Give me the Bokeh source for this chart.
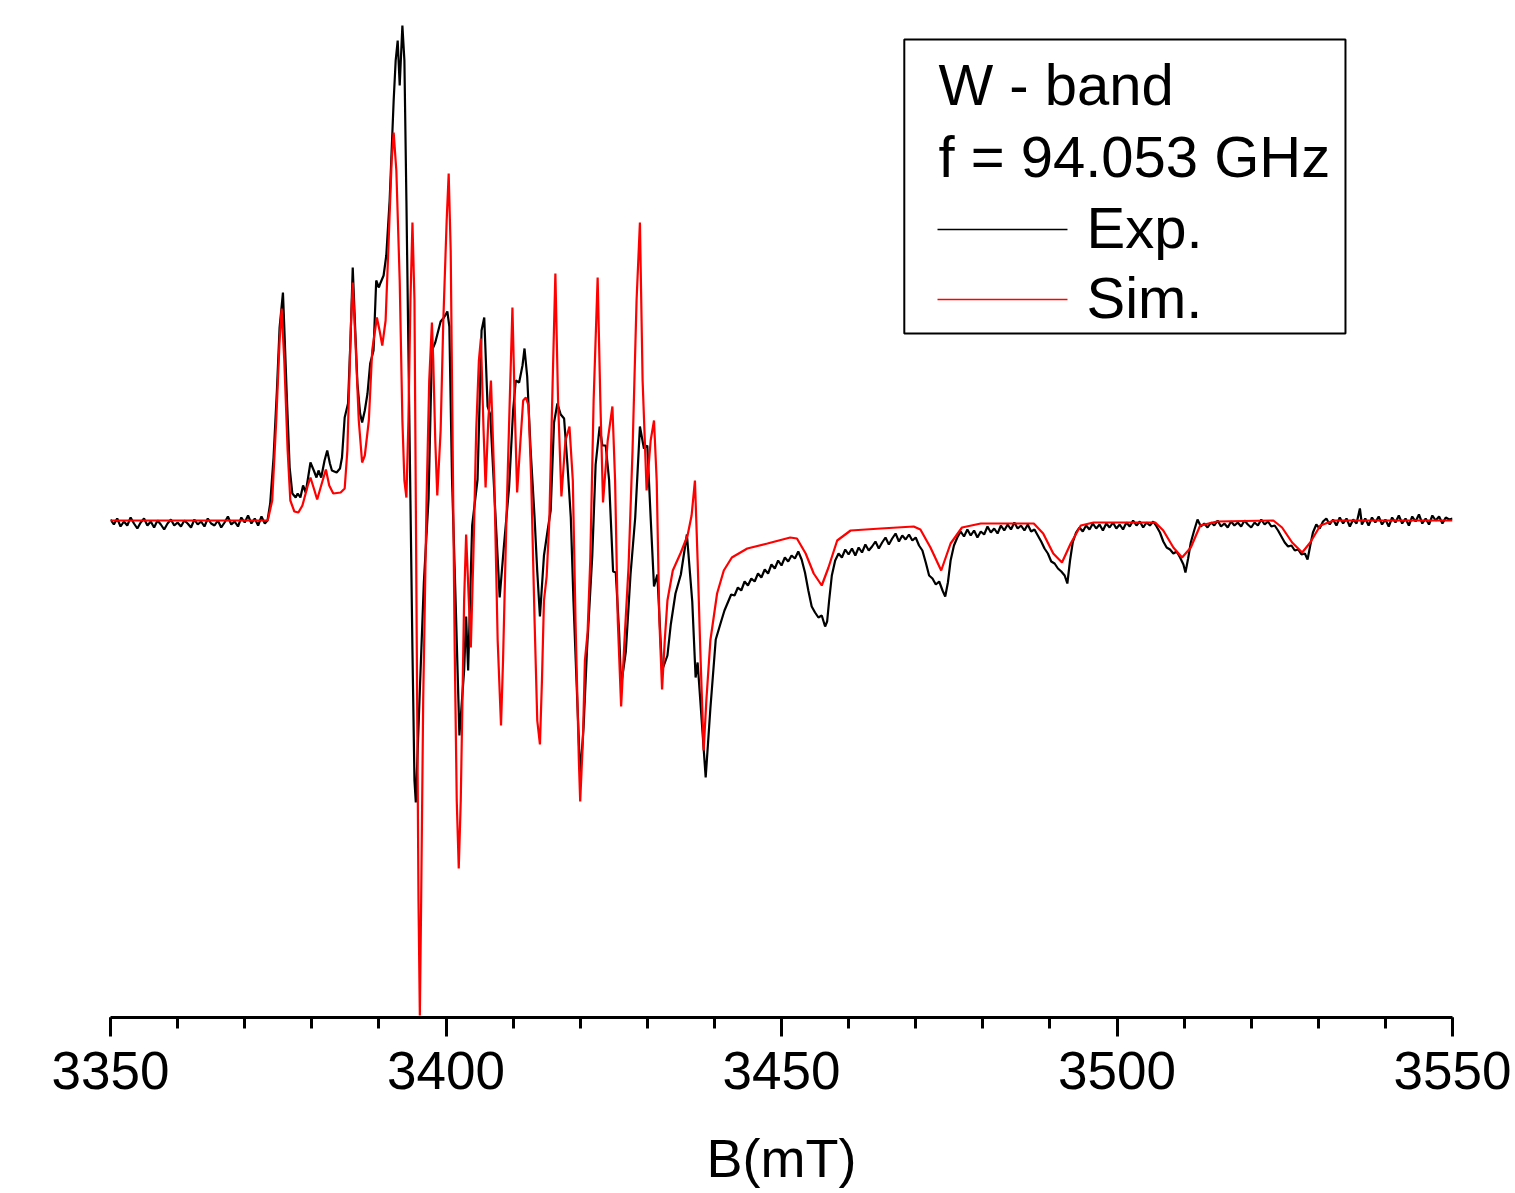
from bokeh.plotting import figure
from bokeh.models import Range1d, FixedTicker, BoxAnnotation, Label
from bokeh.embed import file_html
from bokeh.resources import INLINE

# ---------------- data (field in mT, signal in arbitrary units) ----------------
exp_baseline = [
    (3350.0, 1), (3350.5, -4), (3351.0, 2), (3351.5, -6), (3352.0, -1), (3352.5, -5),
    (3353.0, 3), (3353.5, -3), (3354.0, -8), (3354.5, -2), (3355.0, 2), (3355.5, -5),
    (3356.0, -1), (3356.5, -7), (3357.0, 0), (3357.5, -4), (3358.0, -9), (3358.5, -3),
    (3359.0, 1), (3359.5, -5), (3360.0, -2), (3360.5, -6), (3361.0, 0), (3361.5, -3),
    (3362.0, -7), (3362.5, 1), (3363.0, -4), (3363.5, -1), (3364.0, -6), (3364.5, 2),
    (3365.0, -3), (3365.5, -5), (3366.0, 0), (3366.5, -7), (3367.0, -2), (3367.5, 4),
    (3368.0, -4), (3368.5, -1), (3369.0, -6), (3369.5, 3), (3370.0, -2), (3370.5, 5),
    (3371.0, -3), (3371.5, 2), (3372.0, -5), (3372.5, 4), (3373.0, -3),
]

exp_main = [
    (3373.4, 0), (3373.8, 17), (3374.3, 63), (3374.8, 130), (3375.2, 193), (3375.7, 228),
    (3375.9, 193), (3376.3, 120), (3376.7, 53), (3377.1, 27), (3377.6, 23), (3377.9, 27),
    (3378.3, 23), (3378.7, 35), (3379.1, 28), (3379.8, 58), (3380.3, 50), (3380.7, 43),
    (3381.0, 50), (3381.4, 43), (3381.9, 60), (3382.3, 70), (3382.7, 57), (3383.0, 50),
    (3383.7, 48), (3384.2, 52), (3384.5, 63), (3384.9, 103), (3385.4, 117), (3385.8, 187),
    (3386.1, 253), (3386.4, 203), (3386.8, 137), (3387.2, 107), (3387.5, 98), (3387.9, 110),
    (3388.3, 127), (3388.7, 157), (3389.2, 170), (3389.6, 240), (3390.0, 233), (3390.2, 237),
    (3390.7, 245), (3391.1, 265), (3391.6, 320), (3391.9, 370), (3392.2, 420), (3392.5, 460),
    (3392.8, 480), (3393.1, 435), (3393.5, 495), (3393.8, 460), (3394.1, 320), (3394.4, 170),
    (3394.7, 20), (3395.0, -130), (3395.3, -260), (3395.5, -282), (3396.1, -170), (3396.7, -62),
    (3397.4, 22), (3397.9, 170), (3398.4, 178), (3399.2, 199), (3399.7, 203), (3400.2, 209),
    (3400.5, 194), (3400.9, 41), (3401.4, -73), (3402.0, -215), (3402.7, -150), (3403.0, -96),
    (3403.3, -150), (3403.9, -5), (3404.7, 41), (3405.3, 190), (3405.7, 203), (3406.2, 114),
    (3406.6, 106), (3407.1, 41), (3408.0, -77), (3408.6, -28), (3409.4, 33), (3410.0, 110),
    (3410.4, 140), (3410.9, 138), (3411.4, 155), (3411.7, 172), (3412.1, 144), (3412.6, 72),
    (3413.2, 3), (3413.6, -51), (3414.0, -96), (3414.6, -35), (3415.1, -12), (3415.6, 10),
    (3416.1, 98), (3416.6, 117), (3417.1, 106), (3417.6, 102), (3418.1, 56), (3418.6, 3),
    (3419.0, -81), (3419.5, -169), (3420.0, -255), (3420.5, -207), (3421.0, -131), (3421.8, -35),
    (3422.3, 56), (3422.9, 94), (3423.3, 75), (3423.8, 75), (3424.3, 41), (3424.9, -51),
    (3425.3, -52), (3425.8, -112), (3426.1, -165), (3426.8, -131), (3427.5, -54), (3428.2, 3),
    (3428.9, 94), (3429.5, 72), (3430.0, 75), (3430.5, 3), (3431.0, -66), (3431.5, -54),
    (3432.2, -150), (3433.0, -135), (3433.5, -104), (3434.2, -73), (3435.0, -54), (3435.9, -14),
    (3436.7, -81), (3437.2, -157), (3437.5, -142), (3437.9, -180), (3438.7, -257), (3439.4, -188),
    (3440.2, -119),
]

exp_tail = [
    (3441.0, -101), (3441.5, -90), (3442.0, -82), (3442.5, -74), (3443.0, -75), (3443.5, -67),
    (3444.0, -70), (3444.5, -61), (3445.0, -65), (3445.5, -58), (3446.0, -61), (3446.5, -53),
    (3447.0, -57), (3447.5, -49), (3448.0, -53), (3448.5, -44), (3449.0, -48), (3449.5, -40),
    (3450.0, -45), (3450.5, -37), (3451.0, -41), (3451.5, -35), (3452.0, -38), (3452.5, -31),
    (3453.0, -39), (3453.5, -52), (3454.0, -70), (3454.5, -86), (3455.0, -92), (3455.5, -97),
    (3456.0, -95), (3456.5, -106), (3456.8, -101), (3457.1, -80), (3457.5, -55), (3458.0, -40),
    (3458.5, -33), (3459.0, -37), (3459.5, -29), (3460.0, -34), (3460.5, -28), (3461.0, -35),
    (3461.5, -27), (3462.0, -32), (3462.5, -24), (3463.0, -30), (3463.5, -26), (3464.0, -21),
    (3464.5, -28), (3465.0, -22), (3465.5, -17), (3466.0, -24), (3466.5, -18), (3467.0, -13),
    (3467.5, -21), (3468.0, -15), (3468.5, -19), (3469.0, -14), (3469.5, -20), (3470.0, -17),
    (3470.5, -25), (3471.0, -30), (3471.5, -42), (3472.0, -55), (3472.5, -58), (3473.0, -64),
    (3473.5, -61), (3474.0, -70), (3474.4, -76), (3474.8, -62), (3475.2, -40), (3475.7, -25),
    (3476.2, -17), (3476.7, -11), (3477.2, -16), (3477.7, -9), (3478.2, -15), (3478.7, -10),
    (3479.2, -17), (3479.7, -11), (3480.2, -14), (3480.7, -6), (3481.2, -12), (3481.7, -8),
    (3482.2, -13), (3482.7, -5), (3483.2, -10), (3483.7, -4), (3484.2, -9), (3484.7, -2),
    (3485.2, -8), (3485.7, -5), (3486.2, -10), (3486.7, -4), (3487.2, -11), (3487.7, -9),
    (3488.2, -15), (3488.7, -21), (3489.2, -28), (3489.7, -33), (3490.2, -41), (3490.7, -43),
    (3491.2, -48), (3491.7, -51), (3492.2, -55), (3492.6, -63), (3493.0, -40), (3493.4, -22),
    (3493.9, -12), (3494.4, -7), (3494.9, -11), (3495.4, -5), (3495.9, -9), (3496.4, -3),
    (3496.9, -8), (3497.4, -4), (3497.9, -10), (3498.4, -3), (3498.9, -7), (3499.4, -2),
    (3499.9, -8), (3500.4, -4), (3500.9, -9), (3501.4, -2), (3501.9, -6), (3502.4, 0),
    (3502.9, -5), (3503.4, -1), (3503.9, -7), (3504.4, -2), (3504.9, -5), (3505.4, -1),
    (3505.9, -6), (3506.4, -12), (3506.9, -21), (3507.4, -27), (3507.9, -29), (3508.4, -33),
    (3508.9, -31), (3509.4, -37), (3509.9, -44), (3510.2, -52), (3510.6, -38), (3511.0, -22),
    (3511.5, -10), (3512.0, 1), (3512.5, -6), (3513.0, -3), (3513.5, -7), (3514.0, -2),
    (3514.5, -5), (3515.0, 0), (3515.5, -6), (3516.0, -3), (3516.5, -7), (3517.0, -1),
    (3517.5, -5), (3518.0, -2), (3518.5, -6), (3519.0, 0), (3519.5, -4), (3520.0, -7),
    (3520.5, -2), (3521.0, -5), (3521.5, 1), (3522.0, -4), (3522.5, -1), (3523.0, -6),
    (3523.5, -5), (3524.0, -10), (3524.5, -16), (3525.0, -22), (3525.5, -26), (3526.0, -25),
    (3526.5, -30), (3527.0, -29), (3527.5, -34), (3528.0, -33), (3528.4, -39), (3528.8, -25),
    (3529.2, -12), (3529.7, -4), (3530.2, -8), (3530.7, -1), (3531.2, 2), (3531.7, -4),
    (3532.2, 1), (3532.7, -5), (3533.2, 3), (3533.7, -3), (3534.2, 2), (3534.7, -6),
    (3535.2, 1), (3535.7, -3), (3536.2, 12), (3536.5, -4), (3537.0, 2), (3537.5, -5),
    (3538.0, 3), (3538.5, -2), (3539.0, 4), (3539.5, -4), (3540.0, 1), (3540.5, -6),
    (3541.0, 3), (3541.5, -2), (3542.0, 5), (3542.5, -3), (3543.0, 2), (3543.5, -5),
    (3544.0, 4), (3544.5, -1), (3545.0, 6), (3545.5, -3), (3546.0, 2), (3546.5, -4),
    (3547.0, 5), (3547.5, 0), (3548.0, 4), (3548.5, -3), (3549.0, 3), (3549.5, 1),
    (3550.0, 2),
]

sim_points = [
    (3350.0, 0), (3373.4, 0), (3373.5, 2), (3374.1, 20), (3374.7, 100), (3375.2, 180),
    (3375.5, 212), (3375.9, 160), (3376.4, 70), (3376.8, 20), (3377.4, 9), (3378.0, 8),
    (3378.6, 15), (3379.4, 35), (3379.8, 43), (3380.4, 30), (3380.8, 21), (3381.4, 35),
    (3382.1, 51), (3382.6, 35), (3383.2, 27), (3384.3, 28), (3384.9, 32), (3385.3, 70),
    (3385.8, 190), (3386.1, 238), (3386.5, 180), (3387.0, 100), (3387.5, 58), (3387.9, 65),
    (3388.5, 100), (3389.0, 170), (3389.7, 203), (3390.1, 190), (3390.5, 175), (3391.0, 200),
    (3391.4, 270), (3391.9, 360), (3392.2, 388), (3392.6, 350), (3393.1, 240), (3393.5, 100),
    (3393.8, 40), (3394.1, 23), (3394.4, 100), (3394.7, 220), (3395.0, 298), (3395.3, 220),
    (3395.6, -80), (3395.9, -380), (3396.1, -495), (3396.3, -380), (3396.6, -180), (3397.1, 20),
    (3397.5, 140), (3397.9, 198), (3398.1, 160), (3398.4, 80), (3398.7, 25), (3399.2, 90),
    (3399.6, 200), (3400.1, 300), (3400.4, 347), (3400.7, 270), (3401.0, 70), (3401.3, -130),
    (3401.6, -280), (3401.9, -348), (3402.2, -280), (3402.5, -160), (3402.7, -80), (3403.0, -14),
    (3403.4, -80), (3403.7, -127), (3404.1, -30), (3404.5, 90), (3404.9, 160), (3405.2, 182),
    (3405.6, 90), (3405.9, 33), (3406.3, 100), (3406.7, 140), (3407.2, 40), (3407.7, -120),
    (3408.2, -205), (3408.5, -140), (3409.0, 0), (3409.5, 120), (3409.9, 213), (3410.3, 100),
    (3410.6, 28), (3411.1, 80), (3411.5, 120), (3411.9, 123), (3412.3, 115), (3412.7, 40),
    (3413.2, -100), (3413.6, -200), (3414.0, -224), (3414.3, -160), (3414.6, -80), (3415.0, -56),
    (3415.4, 0), (3415.9, 140), (3416.3, 247), (3416.7, 120), (3417.2, 24), (3417.8, 80),
    (3418.4, 94), (3418.9, 40), (3419.3, -100), (3419.8, -240), (3420.0, -281), (3420.4, -220),
    (3420.7, -140), (3421.1, -112), (3421.5, -40), (3422.0, 120), (3422.6, 243), (3423.0, 120),
    (3423.4, 18), (3424.1, 80), (3424.8, 114), (3425.2, 40), (3425.6, -100), (3426.1, -186),
    (3426.6, -120), (3427.2, -47), (3427.8, 70), (3428.4, 220), (3428.9, 298), (3429.3, 140),
    (3429.9, 30), (3430.5, 80), (3431.0, 100), (3431.4, 40), (3431.8, -100), (3432.2, -169),
    (3432.6, -120), (3433.0, -80), (3433.8, -50), (3435.0, -32), (3436.0, -15), (3436.6, 5),
    (3437.1, 40), (3437.5, -40), (3437.9, -130), (3438.4, -230), (3438.8, -180), (3439.4, -120),
    (3440.4, -73), (3441.4, -50), (3442.6, -37), (3444.9, -28), (3447.9, -23), (3451.3, -17),
    (3452.3, -18), (3453.6, -33), (3454.8, -53), (3456.0, -65), (3457.0, -47), (3458.3, -20),
    (3460.3, -10), (3464.8, -8), (3469.7, -6), (3470.7, -9), (3472.2, -27), (3473.8, -50),
    (3475.2, -23), (3476.9, -7), (3479.7, -3), (3487.6, -3), (3489.0, -13), (3490.5, -33),
    (3491.8, -42), (3493.1, -23), (3494.6, -5), (3496.5, -2), (3505.7, -2), (3506.9, -10),
    (3508.4, -27), (3509.7, -37), (3511.0, -27), (3512.4, -5), (3514.9, -1), (3523.3, 0),
    (3524.6, -7), (3526.1, -22), (3527.6, -32), (3528.8, -22), (3530.3, -5), (3532.3, 0),
    (3550.0, 0),
]

major_ticks = [3350, 3400, 3450, 3500, 3550]
minor_ticks = list(range(3350, 3551, 10))
legend_title = ["W - band", "f = 94.053 GHz"]
series_names = ["Exp.", "Sim."]
x_title = "B(mT)"

exp_all = exp_baseline + exp_main + exp_tail
exp_B = [b for b, _ in exp_all]
exp_I = [v for _, v in exp_all]
sim_B = [b for b, _ in sim_points]
sim_I = [v for _, v in sim_points]

FONT = "Liberation Sans"
TXT_SHIFT = 21  # compensates the label baseline offset

p = figure(width=1515, height=1193, output_backend="svg", toolbar_location=None,
           x_range=Range1d(3350, 3550), y_range=Range1d(-497, 505),
           y_axis_location=None,
           min_border_left=110, min_border_right=63, min_border_top=15, min_border_bottom=176)
p.xgrid.visible = False
p.ygrid.visible = False
p.outline_line_color = None
p.background_fill_color = "white"
p.border_fill_color = "white"

p.line(exp_B, exp_I, line_color="black", line_width=2.2)
p.line(sim_B, sim_I, line_color="#ff0000", line_width=2.2)

ax = p.xaxis[0]
ax.ticker = FixedTicker(ticks=major_ticks, minor_ticks=minor_ticks)
ax.axis_line_width = 3
ax.axis_line_color = "black"
ax.major_tick_line_width = 3
ax.minor_tick_line_width = 3
ax.major_tick_in = 0
ax.major_tick_out = 19
ax.minor_tick_in = 0
ax.minor_tick_out = 11
ax.major_label_text_font = FONT
ax.major_label_text_font_size = "53px"
ax.major_label_text_color = "black"
ax.major_label_standoff = 15
ax.axis_label = x_title
ax.axis_label_text_font = FONT
ax.axis_label_text_font_size = "54px"
ax.axis_label_text_font_style = "normal"
ax.axis_label_text_color = "black"
ax.axis_label_standoff = 36

# legend box (drawn manually to reproduce the Origin-style legend)
p.add_layout(BoxAnnotation(left=3468.3, right=3534.05, top=481, bottom=187,
                           fill_color=None, fill_alpha=0, line_color="black",
                           line_alpha=1.0, line_width=2))
for txt, xx, yy in [(legend_title[0], 3473.4, 415), (legend_title[1], 3473.4, 343),
                    (series_names[0], 3495.45, 272), (series_names[1], 3495.45, 202)]:
    p.add_layout(Label(x=xx, y=yy + TXT_SHIFT, text=txt, text_font=FONT,
                       text_font_size="58px", text_color="black", text_baseline="alphabetic"))
p.line([3473.25, 3492.62], [291, 291], line_color="black", line_width=1.4)
p.line([3473.25, 3492.62], [221, 221], line_color="#ff0000", line_width=1.4)

open("out.html", "w").write(file_html(p, INLINE))
